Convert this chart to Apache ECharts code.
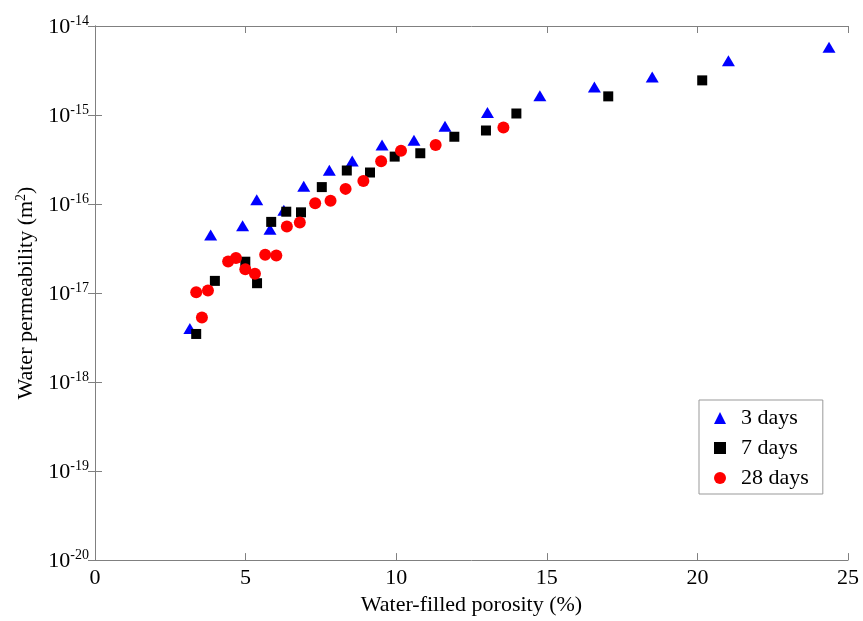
<!DOCTYPE html>
<html><head><meta charset="utf-8">
<script src="https://cdn.jsdelivr.net/npm/echarts@6/dist/echarts.min.js"></script>
<style>html,body{margin:0;padding:0;background:#fff}#c{width:863px;height:621px}</style>
</head><body><div id="c"></div>
<script>
var seriesNames = ['3 days', '7 days', '28 days'];
var days3X = [3.15, 3.84, 4.90, 5.37, 5.81, 6.27, 6.93, 7.78, 8.54, 9.53, 10.59, 11.62, 13.03, 14.77, 16.58, 18.50, 21.03, 24.37];
var days3Y = [4.0e-18, 4.5e-17, 5.7e-17, 1.12e-16, 5.2e-17, 8.5e-17, 1.58e-16, 2.4e-16, 3.05e-16, 4.6e-16, 5.2e-16, 7.5e-16, 1.07e-15, 1.65e-15, 2.07e-15, 2.67e-15, 4.06e-15, 5.78e-15];
var days7X = [3.36, 3.98, 4.99, 5.38, 5.85, 6.35, 6.84, 7.53, 8.36, 9.13, 9.95, 10.80, 11.93, 12.98, 13.99, 17.04, 20.16];
var days7Y = [3.47e-18, 1.37e-17, 2.25e-17, 1.29e-17, 6.3e-17, 8.2e-17, 8.07e-17, 1.55e-16, 2.38e-16, 2.26e-16, 3.41e-16, 3.72e-16, 5.7e-16, 6.7e-16, 1.04e-15, 1.62e-15, 2.45e-15];
var days28X = [3.36, 3.55, 3.75, 4.42, 4.68, 4.99, 5.31, 5.65, 6.02, 6.37, 6.80, 7.31, 7.82, 8.32, 8.91, 9.50, 10.16, 11.31, 13.56];
var days28Y = [1.02e-17, 5.3e-18, 1.07e-17, 2.26e-17, 2.47e-17, 1.85e-17, 1.65e-17, 2.69e-17, 2.64e-17, 5.6e-17, 6.2e-17, 1.02e-16, 1.09e-16, 1.48e-16, 1.82e-16, 3.02e-16, 3.98e-16, 4.6e-16, 7.25e-16];
var xTicks = [0, 5, 10, 15, 20, 25];

function zip(xs, ys){ return xs.map(function(x,i){ return [x, ys[i]]; }); }
var FONT = '"Liberation Serif", "Times New Roman", serif';
var axisColor = '#808080';
var chart = echarts.init(document.getElementById('c'));
chart.setOption({
  animation: false,
  backgroundColor: '#fff',
  grid: { left: 95, right: 15, top: 26, bottom: 58 },
  legend: {
    orient: 'vertical', left: 699, top: 400,
    padding: [7, 14, 5, 15],
    itemWidth: 12, itemHeight: 12, itemGap: 8,
    borderColor: '#999', borderWidth: 1,
    textStyle: { fontFamily: FONT, fontSize: 22, color: '#000', padding: [0, 0, 0, 10] },
    data: [
      { name: seriesNames[0], icon: 'triangle' },
      { name: seriesNames[1], icon: 'rect' },
      { name: seriesNames[2], icon: 'circle' }
    ]
  },
  xAxis: [{
    type: 'value', min: 0, max: 25, interval: 5,
    name: 'Water-filled porosity (%)', nameLocation: 'middle', nameGap: 30,
    nameTextStyle: { fontFamily: FONT, fontSize: 22, color: '#000' },
    axisLine: { show: true, lineStyle: { color: axisColor } },
    axisTick: { inside: true, length: 7, lineStyle: { color: axisColor } },
    axisLabel: { fontFamily: FONT, fontSize: 22, color: '#000', margin: 7 },
    splitLine: { show: false }
  }, {
    type: 'value', min: 0, max: 25, interval: 5, position: 'top',
    axisLine: { show: true, lineStyle: { color: axisColor } },
    axisTick: { inside: true, length: 7, lineStyle: { color: axisColor } },
    axisLabel: { show: false }, splitLine: { show: false }
  }],
  yAxis: [{
    type: 'log', logBase: 10, min: 1e-20, max: 1e-14, interval: 1,
    name: '{a|Water permeability (m}{s|2}{a|)}', nameLocation: 'middle', nameGap: 52, nameRotate: 90,
    nameTextStyle: { rich: {
      a: { fontFamily: FONT, fontSize: 22, color: '#000', lineHeight: 24 },
      s: { fontFamily: FONT, fontSize: 14, color: '#000', verticalAlign: 'top', lineHeight: 24 }
    } },
    axisLine: { show: true, lineStyle: { color: axisColor } },
    axisTick: { inside: true, length: 7, lineStyle: { color: axisColor } },
    minorTick: { show: false },
    axisLabel: {
      margin: 6,
      formatter: function(v){ return '{b|10}{s|' + Math.round(Math.log10(v)) + '}'; },
      rich: {
        b: { fontFamily: FONT, fontSize: 22, color: '#000', lineHeight: 24, verticalAlign: 'bottom', padding: [8, 0, 0, 0] },
        s: { fontFamily: FONT, fontSize: 14, color: '#000', lineHeight: 24, verticalAlign: 'top' }
      }
    },
    splitLine: { show: false }
  }, {
    type: 'log', logBase: 10, min: 1e-20, max: 1e-14, interval: 1, position: 'right',
    axisLine: { show: true, lineStyle: { color: axisColor } },
    axisTick: { inside: true, length: 7, lineStyle: { color: axisColor } },
    minorTick: { show: false },
    axisLabel: { show: false }, splitLine: { show: false }
  }],
  series: [
    { name: seriesNames[0], type: 'scatter', symbol: 'triangle', symbolSize: [13, 11],
      itemStyle: { color: '#0000ff', opacity: 1 }, data: zip(days3X, days3Y) },
    { name: seriesNames[1], type: 'scatter', symbol: 'rect', symbolSize: 10,
      itemStyle: { color: '#000000', opacity: 1 }, data: zip(days7X, days7Y) },
    { name: seriesNames[2], type: 'scatter', symbol: 'circle', symbolSize: 12,
      itemStyle: { color: '#ff0000', opacity: 1 }, data: zip(days28X, days28Y) }
  ]
});
</script></body></html>
